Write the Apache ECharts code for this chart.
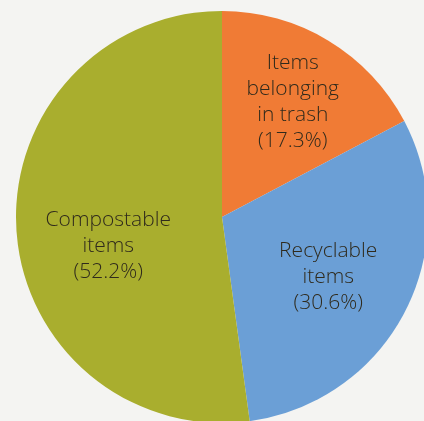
<!DOCTYPE html>
<html>
<head>
<meta charset="utf-8">
<script src="https://cdn.jsdelivr.net/npm/echarts@6/dist/echarts.min.js"></script>
<style>
html,body{margin:0;padding:0;background:#f4f4f2;}
#c{width:424px;height:421px;}
</style>
</head>
<body>
<div id="c"></div>
<script>
const categories = ["Items\nbelonging\nin trash", "Recyclable\nitems", "Compostable\nitems"];
const percentages = [17.3, 30.6, 52.2];

const sliceColors = ["#f07b35", "#6b9fd6", "#a9ae2e"];
const labelOffsets = [[16, -24], [12, 11], [-8, 22]];

const chart = echarts.init(document.getElementById('c'));
chart.setOption({
  backgroundColor: '#f4f4f2',
  animation: false,
  series: [{
    type: 'pie',
    center: [222, 217],
    radius: [0, 206],
    startAngle: 90,
    clockwise: true,
    avoidLabelOverlap: false,
    itemStyle: { borderWidth: 0 },
    label: {
      show: true,
      position: 'inside',
      formatter: p => p.name + '\n(' + p.value.toFixed(1) + '%)',
      fontFamily: 'Open Sans',
      fontWeight: 300,
      fontSize: 21,
      lineHeight: 26,
      color: '#2f2a1c',
      align: 'center'
    },
    labelLine: { show: false },
    emphasis: { disabled: true },
    data: categories.map((n, i) => ({
      name: n,
      value: percentages[i],
      itemStyle: { color: sliceColors[i] },
      label: { offset: labelOffsets[i] }
    }))
  }]
});
</script>
</body>
</html>
